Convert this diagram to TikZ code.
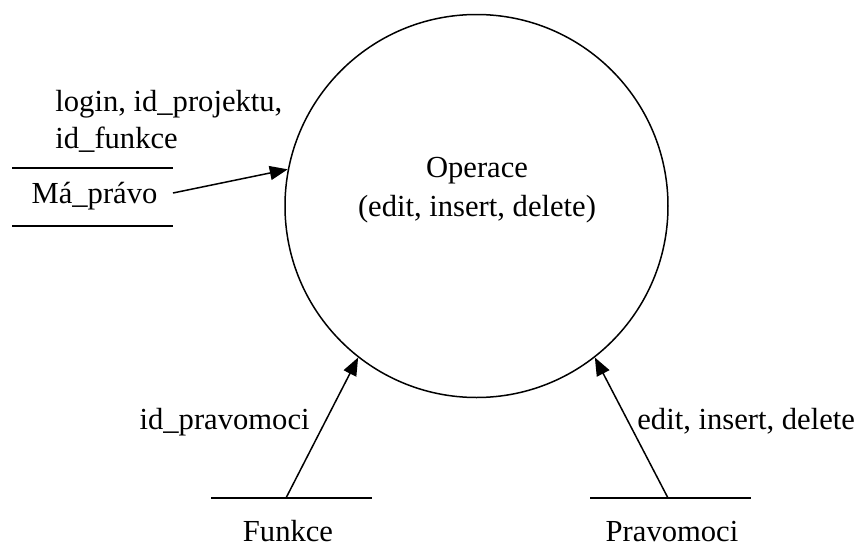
\documentclass[tikz,border=0pt]{standalone}
\usepackage{fontspec}
\setmainfont{Liberation Serif}
\usetikzlibrary{arrows.meta}
\begin{document}
\begin{tikzpicture}[x=0.5pt,y=-0.5pt,
  every node/.style={font=\fontsize{15.3}{20}\selectfont, inner sep=0pt},
  txt/.style={anchor=base},
  proc/.style={circle, draw, line width=0.75pt, minimum size=191.5pt},
  storeline/.style={line width=0.9pt},
  flow/.style={line width=0.75pt, -{Triangle[length=9pt,width=7pt]}}]
  \useasboundingbox (0,0) rectangle (859,558);

  % process
  \node[proc] (op) at (476.5,206) {};
  \node[txt] (optitle) at (477,177) {Operace};
  \node[txt] (opsub) at (477,216) {(edit, insert, delete)};

  % data store: Ma_pravo
  \coordinate (mpa) at (12,168);  \coordinate (mpb) at (173,168);
  \coordinate (mpc) at (12,226);  \coordinate (mpd) at (173,226);
  \draw[storeline] (mpa) -- (mpb);
  \draw[storeline] (mpc) -- (mpd);
  \node[txt] (mp) at (94.5,203) {Má\_právo};
  \coordinate (mpout) at (173,193);

  % data store: Funkce
  \coordinate (fa) at (211,498); \coordinate (fb) at (372,498);
  \draw[storeline] (fa) -- (fb);
  \node[txt] (fk) at (288,541) {Funkce};
  \coordinate (fout) at (286,498);

  % data store: Pravomoci
  \coordinate (pa) at (590,498); \coordinate (pb) at (751,498);
  \draw[storeline] (pa) -- (pb);
  \node[txt] (pv) at (672,541) {Pravomoci};
  \coordinate (pout) at (668,498);

  % flows
  \draw[flow] (mpout) -- (op.169);
  \draw[flow] (fout) -- (op.232.8);
  \draw[flow] (pout) -- (op.-52.8);

  % flow labels
  \node[anchor=base west] (l1) at (55,111) {login, id\_projektu,};
  \node[anchor=base west] (l2) at (55,148) {id\_funkce};
  \node[anchor=base east] (l3) at (310,429) {id\_pravomoci};
  \node[anchor=base west] (l4) at (637,429) {edit, insert, delete};
\end{tikzpicture}
\end{document}
